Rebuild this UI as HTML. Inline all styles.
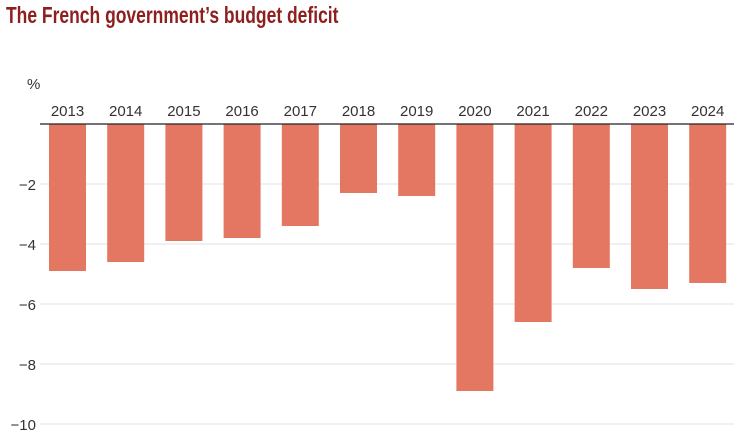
<!DOCTYPE html>
<html><head><meta charset="utf-8"><style>
body{margin:0;background:#fff;width:744px;height:441px;overflow:hidden;font-family:"Liberation Sans",sans-serif}
#title{position:absolute;left:6px;top:2px;font-size:23px;font-weight:bold;color:#8e1f1f;transform:scaleX(0.76);transform-origin:0 0;white-space:nowrap}
</style></head><body>
<div id="title">The French government’s budget deficit</div>
<svg id="chart" width="744" height="441" style="position:absolute;left:0;top:0"></svg>
<script>
const years=["2013","2014","2015","2016","2017","2018","2019","2020","2021","2022","2023","2024"];
const deficits=[-4.9,-4.6,-3.9,-3.8,-3.4,-2.3,-2.4,-8.9,-6.6,-4.8,-5.5,-5.3];
const yTicks=[-2,-4,-6,-8,-10];
const yTickLabels=["−2","−4","−6","−8","−10"];
const svg=document.getElementById('chart');
const NS='http://www.w3.org/2000/svg';
const x0=40,x1=734,y0=124,pxPerUnit=30;
const y=v=>y0-v*pxPerUnit;
const step=58.2,bw=37,firstCenter=67.5;
const xc=i=>firstCenter+i*step;
function mk(t,a){const e=document.createElementNS(NS,t);for(const k in a)e.setAttribute(k,a[k]);svg.appendChild(e);return e;}
yTicks.forEach((v,i)=>{
  const g=mk('line',{x1:x0,x2:x1,y1:y(v),y2:y(v),stroke:'#e2e2e2','stroke-width':1});
  
  
  const t=mk('text',{x:36,y:y(v)+6,'text-anchor':'end','font-size':15,fill:'#333','font-family':'Liberation Sans, sans-serif'});
  t.textContent=yTickLabels[i];
  
  
});
const u=mk('text',{x:27,y:89,'font-size':15,fill:'#333','font-family':'Liberation Sans, sans-serif'});
u.textContent='%';


deficits.forEach((v,i)=>{
  const top=Math.min(y(0),y(v)),h=Math.abs(y(v)-y(0));
  const r=mk('rect',{x:xc(i)-bw/2,y:top,width:bw,height:h,fill:'#e47761'});
  
  
  const t=mk('text',{x:xc(i),y:116,'text-anchor':'middle','font-size':15,fill:'#333','font-family':'Liberation Sans, sans-serif'});
  t.textContent=years[i];
  
  
});
const b=mk('line',{x1:x0,x2:x1,y1:y0,y2:y0,stroke:'#222','stroke-width':1.2});


</script>
</body></html>
